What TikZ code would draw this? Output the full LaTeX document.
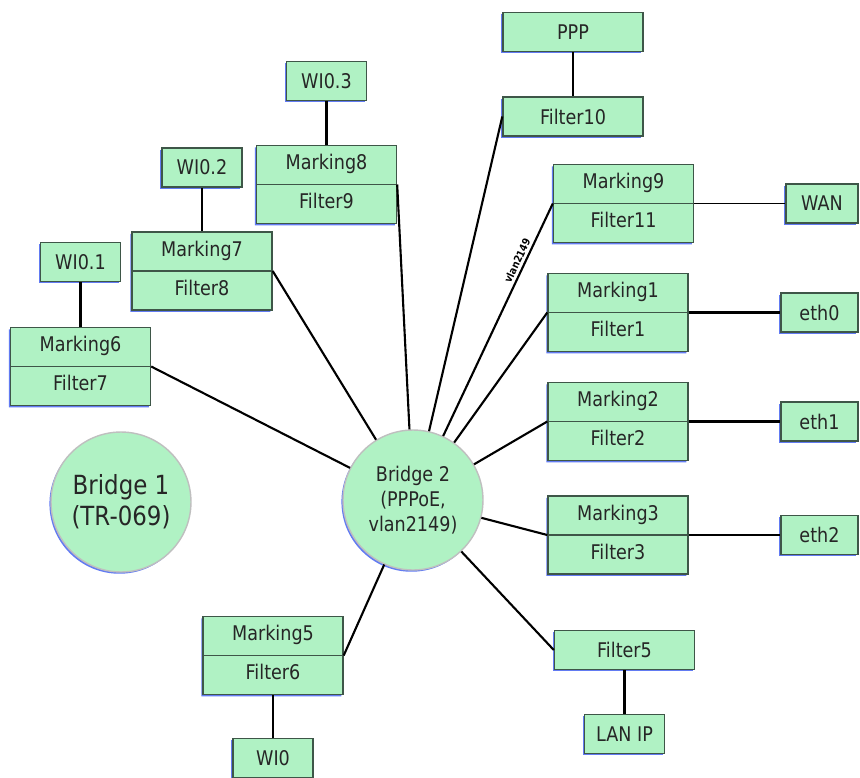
\documentclass[tikz,border=0pt]{standalone}
\usepackage{fontspec}
\setmainfont{DejaVu Sans}[FakeStretch=0.87]
\usepackage{tikz}
\usetikzlibrary{shapes.multipart, shadows}
\definecolor{boxfill}{RGB}{176,242,196}
\definecolor{boxline}{RGB}{62,86,72}
\definecolor{shadeblue}{RGB}{70,100,240}

\begin{document}
\begin{tikzpicture}[x=0.02cm, y=-0.02cm,
    box/.style={fill=boxfill, draw=boxline, line width=0.8pt, text=black!85,
        font=\fontsize{11.5}{13}\selectfont,
        drop shadow={shadow xshift=-0.9pt, shadow yshift=-1pt, fill=shadeblue, opacity=0.85}},
    port/.style={box, minimum width=1.6cm, minimum height=0.78cm, inner sep=0pt},
    pair/.style={box, rectangle split, rectangle split parts=2, text width=2.8cm,
        align=center, inner xsep=0pt, inner ysep=4.2pt},
    bridge/.style={box, circle, draw=gray!50, minimum size=2.8cm, inner sep=0pt, align=center},
    link/.style={line width=1.2pt}]
    \useasboundingbox (0,0) rectangle (860,778);
    % bridges
    \node[bridge, font=\fontsize{15}{17.5}\selectfont] (b1) at (121,502) {Bridge 1\\(TR-069)};
    \node[bridge, font=\fontsize{11.5}{14.2}\selectfont] (b2) at (413,500) {Bridge 2\\(PPPoE,\\vlan2149)};
    % marking / filter pairs
    \node[pair] (m6) at (80.5,366.5) {Marking6\strut\nodepart{two}Filter7\strut};
    \node[pair] (m7) at (202,271) {Marking7\strut\nodepart{two}Filter8\strut};
    \node[pair] (m8) at (326.5,184.5) {Marking8\strut\nodepart{two}Filter9\strut};
    \node[pair] (m9) at (623.5,203.5) {Marking9\strut\nodepart{two}Filter11\strut};
    \node[pair] (m1) at (618,312.5) {Marking1\strut\nodepart{two}Filter1\strut};
    \node[pair] (m2) at (618,421.5) {Marking2\strut\nodepart{two}Filter2\strut};
    \node[pair] (m3) at (618,535) {Marking3\strut\nodepart{two}Filter3\strut};
    \node[pair] (m5) at (273,655.5) {Marking5\strut\nodepart{two}Filter6\strut};
    % single boxes
    \node[port] (wi01) at (80.5,262) {WI0.1};
    \node[port] (wi02) at (202,167.5) {WI0.2};
    \node[port] (wi03) at (326.5,81) {WI0.3};
    \node[port] (wi0) at (273,758) {WI0};
    \node[port, minimum width=2.8cm] (ppp) at (573,32) {PPP};
    \node[port, minimum width=2.8cm] (f10) at (573,116.5) {Filter10};
    \node[port, minimum width=2.8cm] (f5) at (624.5,650) {Filter5};
    \node[port] (lanip) at (624.5,734) {LAN IP};
    \node[port, minimum width=1.44cm] (wan) at (822,203.5) {WAN};
    \node[port, minimum width=1.54cm] (eth0) at (819.5,312.5) {eth0};
    \node[port, minimum width=1.54cm] (eth1) at (819.5,421.5) {eth1};
    \node[port, minimum width=1.54cm] (eth2) at (819.5,535) {eth2};
    % links to bridge 2
    \draw[link] (m6.east) -- (b2) (m7.east) -- (b2) (m8.east) -- (b2) (f10.west) -- (b2);
    \draw[link] (m1.west) -- (b2) (m2.west) -- (b2) (m3.west) -- (b2);
    \draw[link] (f5.west) -- (b2) (m5.east) -- (b2);
    \draw[link] (b2) -- node[sloped, above, pos=0.74, inner sep=1.5pt,
        font=\fontsize{6}{7}\selectfont\bfseries] (vlan) {vlan2149} (m9.west);
    % uplinks and ports
    \draw[link] (wi01) -- (m6) (wi02) -- (m7) (wi03) -- (m8) (ppp) -- (f10);
    \draw[link] (m5) -- (wi0) (f5) -- (lanip);
    \draw[link] (m1.east) -- (eth0) (m2.east) -- (eth1) (m3.east) -- (eth2);
    \draw[line width=0.6pt] (m9.east) -- (wan);
\end{tikzpicture}
\end{document}
